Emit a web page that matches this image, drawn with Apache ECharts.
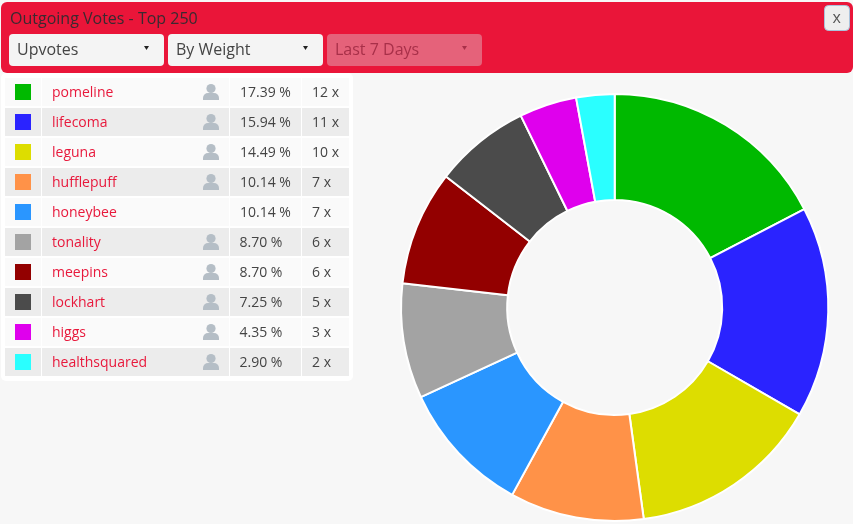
<!DOCTYPE html>
<html><head><meta charset="utf-8">
<style>html,body{margin:0;padding:0;background:#f7f7f7}#c{width:853px;height:524px}</style>
<script src="https://cdn.jsdelivr.net/npm/echarts@6/dist/echarts.min.js"></script>
</head><body><div id="c"></div>
<script>
const names = ['pomeline','lifecoma','leguna','hufflepuff','honeybee','tonality','meepins','lockhart','higgs','healthsquared'];
const votes = [12,11,10,7,7,6,6,5,3,2];
const percents = ['17.39 %','15.94 %','14.49 %','10.14 %','10.14 %','8.70 %','8.70 %','7.25 %','4.35 %','2.90 %'];
const colors = ['#00b900','#2a23ff','#dddd00','#ff9248','#2a96ff','#a3a3a3','#930000','#4b4b4b','#df00ed','#2affff'];
const hasIcon = [true,true,true,true,false,true,true,true,true,true];
const title = 'Outgoing Votes - Top 250';
const selects = ['Upvotes','By Weight','Last 7 Days'];

const F = '"Open Sans"';
const g = [];
const rect = (x,y,w,h,fill,r,extra) => g.push(Object.assign({type:'rect',shape:{x,y,width:w,height:h,r:r||0},style:{fill}},extra||{}));
const text = (x,y,t,fill,size,extra) => g.push({type:'text',x,y,style:Object.assign({text:t,fill,font:size+'px '+F,textVerticalAlign:'middle',textBaseline:'middle'},extra||{})});

// header
rect(1,2,852,71,'#ea1539',6);
text(10,19,title,'#3a2a30',16);
const sx=[9,168,327], sw=[155,155,155];
selects.forEach((s,i)=>{
  const dis=i===2;
  rect(sx[i],34,sw[i],32,dis?'#e5627a':'#f4f4f4',4);
  text(sx[i]+8,50.5,s,dis?'#a83049':'#444',16);
  g.push({type:'polygon',shape:{points:[[sx[i]+135,46],[sx[i]+140,46],[sx[i]+137.5,50]]},style:{fill:dis?'#a83049':'#222'}});
});
// close button
rect(824.5,5.5,25,25,'#eeeeee',4,{style:{fill:'#eeeeee',stroke:'#a9c3dc',lineWidth:1}});
text(832.5,18,'x','#555',16);

// table panel
rect(1,73,352,308,'#ffffff',5);
names.forEach((n,i)=>{
  const y=78+i*30, bg=i%2?'#ececec':'#fafafa';
  rect(5,y,36,28,bg); rect(42,y,187,28,bg); rect(230,y,71,28,bg); rect(302,y,47,28,bg);
  rect(15,y+6,16,16,colors[i]);
  text(52,y+15,n,'#e8193c',14);
  if(hasIcon[i]){
    g.push({type:'circle',shape:{cx:211,cy:y+10.5,r:4.6},style:{fill:'#b5bec6'}});
    rect(203,y+15,16,7,'#b5bec6',[5,5,0,0]);
  }
  text(i<5?240:239.5,y+15,percents[i],'#444',14);
  text(312,y+15,votes[i]+' x','#444',14);
});

const chart = echarts.init(document.getElementById('c'),null,{renderer:'canvas'});
chart.setOption({
  animation:false,
  backgroundColor:'#f7f7f7',
  color:colors,
  series:[{
    type:'pie',
    center:[614.7,307.5],
    radius:[107.5,213.6],
    startAngle:90,
    clockwise:true,
    label:{show:false},
    labelLine:{show:false},
    silent:true,
    itemStyle:{borderColor:'#fff',borderWidth:2},
    data:names.map((n,i)=>({name:n,value:votes[i]}))
  }],
  graphic:g.map(e=>Object.assign({silent:true},e))
});
</script></body></html>
